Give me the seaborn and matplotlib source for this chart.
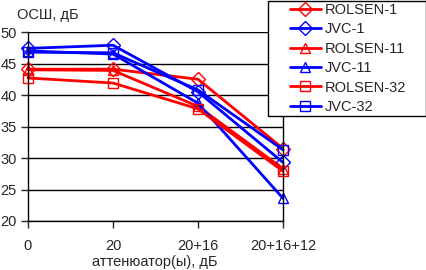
import pandas as pd
import numpy as np
import seaborn as sns
import matplotlib.pyplot as plt
from matplotlib.patches import Rectangle

categories = ["0", "20", "20+16", "20+16+12"]
series = ["ROLSEN-1", "JVC-1", "ROLSEN-11", "JVC-11", "ROLSEN-32", "JVC-32"]
rolsen_1 = [44.1, 44.1, 42.5, 31.5]
jvc_1 = [47.4, 47.9, 40.5, 29.3]
rolsen_11 = [44.0, 43.9, 38.2, 28.3]
jvc_11 = [47.0, 46.5, 38.7, 23.6]
rolsen_32 = [42.7, 41.9, 37.8, 27.9]
jvc_32 = [46.8, 46.7, 40.8, 31.3]

values = [rolsen_1, jvc_1, rolsen_11, jvc_11, rolsen_32, jvc_32]
rows = []
for name, vals in zip(series, values):
    for cat, v in zip(categories, vals):
        rows.append({"att": cat, "snr": v, "dev": name})
df = pd.DataFrame(rows)

palette = {s: ("#ff0000" if s.startswith("ROLSEN") else "#0000ff") for s in series}
markers = {"ROLSEN-1": "D", "JVC-1": "D", "ROLSEN-11": "^", "JVC-11": "^",
           "ROLSEN-32": "s", "JVC-32": "s"}

sns.set_style("white")
plt.rcParams["font.family"] = ["Liberation Sans", "DejaVu Sans"]
fs = 10.5

fig = plt.figure(figsize=(4.27, 2.70), dpi=100)
ax = fig.add_axes([28 / 427, 1 - 221 / 270, 255 / 427, 189 / 270])

sns.lineplot(data=df, x="att", y="snr", hue="dev", style="dev",
             hue_order=series, style_order=series,
             palette=palette, markers=markers, dashes=False,
             linewidth=2, markersize=7, sort=False, legend=False, ax=ax)

for line in ax.lines:
    c = line.get_color()
    line.set_markerfacecolor("none")
    line.set_markeredgecolor(c)
    line.set_markeredgewidth(1)
    line.set_clip_on(False)

ax.set_xlim(0, 3)
ax.set_ylim(20, 50)
ax.set_yticks(np.arange(20, 51, 5))
ax.set_xticks(range(len(categories)))
ax.set_xticklabels(categories)
ax.grid(axis="y", color="black", linewidth=1)
ax.set_axisbelow(True)
ax.tick_params(axis="y", direction="out", length=5, width=1, pad=3, left=True, labelsize=fs)
ax.tick_params(axis="x", direction="out", length=5, width=1, pad=8, bottom=True, labelsize=fs)
for side in ["left", "bottom", "right"]:
    ax.spines[side].set_color("black")
    ax.spines[side].set_linewidth(1)
ax.spines["top"].set_visible(False)
ax.set_xlabel("")
ax.set_ylabel("")

fig.text(17 / 427, 1 - 15 / 270, "ОСШ, дБ", ha="left", va="center", fontsize=fs)
fig.text(155 / 427, 1 - 262 / 270, "аттенюатор(ы), дБ", ha="center", va="center", fontsize=fs)

# legend box drawn separately so the entries can sit away from its left edge
fig.patches.append(Rectangle((268 / 427, 1 - 116 / 270), 158 / 427, 115 / 270,
                             transform=fig.transFigure, facecolor="white",
                             edgecolor="black", linewidth=1, zorder=5))
handles = [plt.Line2D([], [], color=palette[s], marker=markers[s], lw=2, ms=7,
                      mfc="none", mec=palette[s], mew=1) for s in series]
leg = fig.legend(handles, series, loc="upper left",
                 bbox_to_anchor=(290 / 427, 1 - 3 / 270),
                 borderaxespad=0, borderpad=0, frameon=False, fontsize=fs,
                 handlelength=2.1, labelspacing=0.37, handletextpad=0.25)
leg.set_zorder(6)

fig.savefig("out.png", dpi=100)
